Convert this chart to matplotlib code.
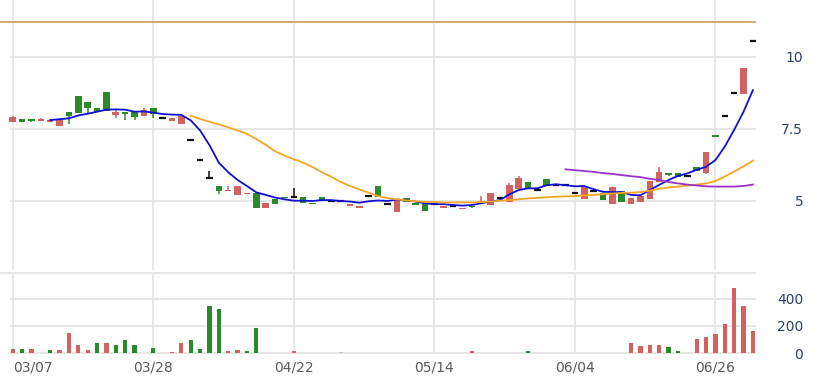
import numpy as np
import matplotlib.pyplot as plt

# Trading days (one candle each)
dates = ("03/07 03/08 03/11 03/12 03/13 03/14 03/15 03/18 03/19 03/20 03/21 03/22 03/25 03/26 03/27 03/28 03/29 "
         "04/01 04/02 04/03 04/08 04/09 04/10 04/11 04/12 04/15 04/16 04/17 04/18 04/19 04/22 04/23 04/24 04/25 04/26 "
         "04/29 04/30 05/02 05/03 05/06 05/07 05/08 05/09 05/10 05/13 05/14 05/15 05/16 05/17 05/20 05/21 05/22 05/23 "
         "05/24 05/27 05/28 05/29 05/30 05/31 06/03 06/04 06/05 06/06 06/07 06/11 06/12 06/13 06/14 06/17 06/18 06/19 "
         "06/20 06/21 06/24 06/25 06/26 06/27 06/28 07/01 07/02").split()
tick_labels = ['03/07', '03/28', '04/22', '05/14', '06/04', '06/26']

# OHLC
opens = [7.74, 7.84, 7.84, 7.78, 7.74, 7.59, 8.10, 8.66, 8.45, 8.22,
         8.80, 7.99, 8.10, 8.08, 7.94, 8.22, 7.87, 7.78, 7.66, 7.12,
         6.42, 5.79, 5.52, 5.35, 5.21, 5.24, 5.27, 4.75, 5.06, 5.15,
         5.13, 5.13, 4.92, 5.15, 5.01, 5.01, 4.83, 4.77, 5.17, 5.53,
         4.91, 4.63, 5.09, 4.94, 4.89, 4.90, 4.76, 4.83, 4.71, 4.83,
         4.92, 4.86, 5.12, 4.95, 5.42, 5.66, 5.38, 5.75, 5.56, 5.57,
         5.27, 5.07, 5.34, 5.27, 4.90, 5.35, 4.90, 4.98, 5.07, 5.67,
         5.98, 5.96, 5.88, 6.19, 5.98, 7.29, 7.95, 8.74, 8.72, 10.57]
highs = [7.96, 7.84, 7.84, 7.89, 7.80, 7.85, 8.10, 8.66, 8.45, 8.22,
         8.80, 8.19, 8.10, 8.08, 8.22, 8.22, 7.92, 7.89, 7.96, 7.12,
         6.42, 6.05, 5.52, 5.52, 5.52, 5.29, 5.27, 4.92, 5.06, 5.15,
         5.44, 5.13, 4.92, 5.15, 5.01, 5.01, 4.89, 4.83, 5.17, 5.53,
         4.91, 5.03, 5.09, 4.94, 4.89, 4.90, 4.83, 4.83, 4.76, 4.83,
         5.18, 5.27, 5.12, 5.62, 5.88, 5.66, 5.38, 5.75, 5.56, 5.57,
         5.27, 5.47, 5.34, 5.27, 5.48, 5.35, 5.09, 5.18, 5.69, 6.19,
         5.98, 5.96, 5.88, 6.19, 6.69, 7.29, 7.95, 8.74, 9.63, 10.57]
lows = [7.74, 7.74, 7.74, 7.78, 7.74, 7.59, 7.67, 8.07, 8.03, 8.10,
        8.12, 7.88, 7.81, 7.81, 7.94, 7.88, 7.87, 7.78, 7.66, 7.12,
        6.42, 5.79, 5.24, 5.35, 5.21, 5.24, 4.77, 4.75, 4.90, 5.11,
        5.13, 4.92, 4.89, 5.01, 5.01, 5.01, 4.83, 4.77, 5.17, 5.13,
        4.91, 4.63, 4.98, 4.85, 4.66, 4.90, 4.76, 4.83, 4.71, 4.76,
        4.92, 4.86, 5.12, 4.95, 5.42, 5.42, 5.38, 5.53, 5.56, 5.57,
        5.27, 5.07, 5.34, 5.03, 4.90, 4.98, 4.90, 4.98, 5.07, 5.67,
        5.88, 5.84, 5.88, 6.05, 5.94, 7.23, 7.95, 8.74, 8.72, 10.57]
closes = [7.91, 7.74, 7.78, 7.85, 7.80, 7.85, 7.96, 8.07, 8.24, 8.10,
          8.12, 8.10, 8.03, 7.92, 8.17, 8.01, 7.87, 7.89, 7.96, 7.12,
          6.42, 5.79, 5.35, 5.38, 5.52, 5.29, 4.77, 4.92, 4.90, 5.11,
          5.13, 4.92, 4.89, 5.01, 5.01, 5.01, 4.89, 4.83, 5.17, 5.13,
          4.91, 5.03, 4.98, 4.85, 4.66, 4.90, 4.83, 4.83, 4.76, 4.79,
          5.01, 5.27, 5.12, 5.54, 5.79, 5.42, 5.38, 5.53, 5.56, 5.57,
          5.27, 5.47, 5.34, 5.03, 5.48, 4.98, 5.09, 5.18, 5.69, 6.00,
          5.91, 5.84, 5.88, 6.05, 6.69, 7.23, 7.95, 8.74, 9.63, 10.57]

volumes = [31, 29, 29, 3, 22, 22, 150, 65, 22, 78,
           78, 65, 95, 58, 5, 41, 5, 12, 78, 95,
           29, 342, 322, 15, 22, 15, 187, 4, 0, 0,
           15, 0, 0, 0, 3, 12, 0, 4, 0, 0,
           0, 4, 0, 3, 3, 0, 0, 2, 4, 15,
           5, 5, 4, 0, 5, 15, 0, 5, 0, 0,
           0, 4, 0, 0, 0, 0, 78, 56, 64, 64,
           46, 15, 0, 102, 121, 140, 216, 478, 349, 167]

# Moving averages (MA5 from day 4, MA20 from day 19, MA60 from day 59)
ma5 = [7.81, 7.84, 7.87, 7.97, 8.03, 8.10, 8.17, 8.18, 8.17, 8.10,
       8.11, 8.07, 8.02, 8.00, 7.99, 7.80, 7.45, 6.94, 6.33, 6.00,
       5.73, 5.52, 5.30, 5.21, 5.12, 5.06, 5.01, 5.01, 5.00, 5.03,
       5.03, 5.00, 4.98, 4.94, 4.99, 5.02, 5.00, 5.05, 5.03, 4.98,
       4.92, 4.89, 4.89, 4.86, 4.84, 4.86, 4.92, 4.98, 5.03, 5.23,
       5.38, 5.44, 5.44, 5.55, 5.58, 5.55, 5.51, 5.52, 5.41, 5.32,
       5.31, 5.31, 5.21, 5.20, 5.38, 5.56, 5.73, 5.87, 5.96, 6.08,
       6.19, 6.42, 6.89, 7.47, 8.10, 8.85]
ma20 = [7.96, 7.85, 7.75, 7.66, 7.56, 7.45, 7.33, 7.15, 6.95, 6.73,
        6.58, 6.45, 6.33, 6.18, 6.00, 5.84, 5.66, 5.52, 5.40, 5.29,
        5.17, 5.10, 5.06, 5.02, 4.99, 4.97, 4.96, 4.95, 4.95, 4.95,
        4.95, 4.96, 4.98, 5.01, 5.03, 5.06, 5.09, 5.11, 5.13, 5.15,
        5.16, 5.17, 5.19, 5.21, 5.24, 5.26, 5.28, 5.29, 5.31, 5.36,
        5.42, 5.47, 5.50, 5.53, 5.57, 5.61, 5.69, 5.85, 6.02, 6.20,
        6.40]
ma60 = [6.10, 6.07, 6.04, 6.01, 5.97, 5.94, 5.90, 5.86, 5.83, 5.77,
        5.73, 5.66, 5.61, 5.57, 5.54, 5.51, 5.50, 5.50, 5.50, 5.52,
        5.57]

ref_price = 11.22

up_color = '#d06262'
down_color = '#2b8a2b'
grid_color = '#e4e4e4'

n = len(dates)
x = np.arange(n)
o = np.array(opens)
h = np.array(highs)
l = np.array(lows)
c = np.array(closes)

W, H = 819, 378
fig = plt.figure(figsize=(W / 100, H / 100), dpi=100)
ax = fig.add_axes([0, 1 - 270 / H, 756 / W, 270 / H])
axv = fig.add_axes([0, 1 - 354 / H, 756 / W, 82 / H])

xlim = (-1.355, 79.33)
for a in (ax, axv):
    a.set_xlim(*xlim)
    for s in a.spines.values():
        s.set_visible(False)

ax.set_ylim(2.604, 11.979)
axv.set_ylim(-4, 593)

# grid
tick_pos = [dates.index(t) for t in tick_labels]
for p in tick_pos:
    ax.axvline(p, color=grid_color, lw=1.2, zorder=0)
    axv.axvline(p, color=grid_color, lw=1.2, zorder=0)
price_ticks = [5, 7.5, 10]
ax.hlines(price_ticks, -0.29, xlim[1], color=grid_color, lw=1.3, zorder=0)
vol_ticks = [0, 200, 400]
axv.hlines(vol_ticks, -0.29, xlim[1], color=grid_color, lw=1.3, zorder=0)
axv.axhline(593, color='#e6e6e6', lw=3, zorder=0)
ax.axhline(ref_price, color='#c8a46e', lw=1.3, zorder=1)

# candles
bw = 0.7
for i in range(n):
    if c[i] > o[i]:
        col = up_color
    elif c[i] < o[i]:
        col = down_color
    else:
        col = '#111111'
    ax.vlines(x[i], l[i], h[i], color=col, lw=1.1, zorder=3)
    if c[i] == o[i]:
        ax.hlines(c[i], x[i] - bw / 2, x[i] + bw / 2, color=col, lw=1.6, zorder=3)
    else:
        ax.bar(x[i], abs(c[i] - o[i]), bottom=min(o[i], c[i]), width=bw, color=col, zorder=3)

# moving averages
ax.plot(x[n - len(ma5):], ma5, color='#1010d0', lw=1.3, zorder=4)
ax.plot(x[n - len(ma20):], ma20, color='#f5a524', lw=1.3, zorder=4)
ax.plot(x[n - len(ma60):], ma60, color='#9a33c8', lw=1.3, zorder=4)

# volume, coloured by change from previous close
chg = np.diff(c, prepend=c[0] - 1)
vcols = [up_color if d > 0 else down_color if d < 0 else '#c8c8c8' for d in chg]
axv.bar(x, volumes, width=0.45, color=vcols, zorder=3)

# axis labels
lab_color = '#2c4266'
ax.yaxis.tick_right()
ax.set_yticks(price_ticks)
ax.set_yticklabels(['5', '7.5', '10'])
axv.yaxis.tick_right()
axv.set_yticks(vol_ticks)
axv.set_yticklabels(['0', '200', '400'])
for a in (ax, axv):
    a.tick_params(axis='y', length=0, pad=34, labelsize=10, labelcolor=lab_color)
    for t in a.get_yticklabels():
        t.set_horizontalalignment('right')

ax.set_xticks([])
axv.set_xticks(tick_pos)
axv.set_xticklabels(tick_labels)
axv.tick_params(axis='x', length=0, pad=5, labelsize=10, labelcolor='#5a5a5a')
axv.get_xticklabels()[0].set_horizontalalignment('left')

fig.savefig('out.png', dpi=100)
